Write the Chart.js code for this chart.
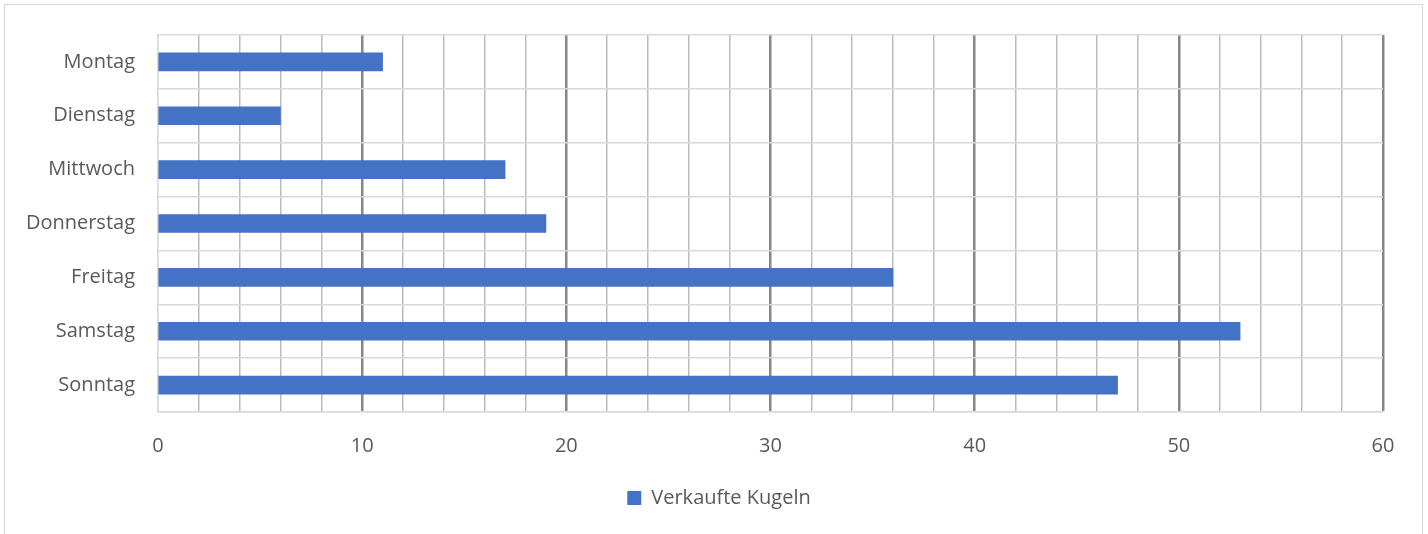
<!DOCTYPE html>
<html>
<head>
<meta charset="utf-8">
<script src="https://cdn.jsdelivr.net/npm/chart.js@4/dist/chart.umd.min.js"></script>
<style>
  html, body { margin: 0; padding: 0; background: #fff; overflow: hidden; }
  #wrap { position: relative; width: 1428px; height: 534px; }
  #frame { position: absolute; left: 4px; top: 4px; width: 1419px; height: 540px; border: 1px solid #d9d9d9; box-sizing: border-box; pointer-events: none; }
  canvas { position: absolute; left: 0; top: 0; }
</style>
</head>
<body>
<div id="wrap">
  <canvas id="chart" width="1428" height="534"></canvas>
  <div id="frame"></div>
</div>
<script>
const days = ['Montag', 'Dienstag', 'Mittwoch', 'Donnerstag', 'Freitag', 'Samstag', 'Sonntag'];
const sold = [11, 6, 17, 19, 36, 53, 47];
const seriesName = 'Verkaufte Kugeln';
const xMin = 0;
const xMax = 60;

const textColor = '#595959';
const font = { family: '"Open Sans", sans-serif', size: 20 };

const ctx = document.getElementById('chart').getContext('2d');
const chart = new Chart(ctx, {
  type: 'bar',
  data: {
    labels: days,
    datasets: [
      {
        label: seriesName,
        data: sold,
        backgroundColor: '#4472C4',
        borderWidth: 0,
        barThickness: 18
      }
    ]
  },
  options: {
    indexAxis: 'y',
    responsive: false,
    animation: false,
    layout: { padding: { top: 34, right: 0, bottom: 16, left: 10 } },
    plugins: {
      legend: {
        position: 'bottom',
        labels: {
          color: textColor,
          font: font,
          boxWidth: 14,
          boxHeight: 14,
          padding: 10
        }
      },
      tooltip: { enabled: false }
    },
    scales: {
      x: {
        min: xMin,
        max: xMax,
        afterFit: (scale) => { scale.height = 66; },
        border: { display: true, color: '#d9d9d9', width: 1.5 },
        grid: {
          drawTicks: false,
          color: (c) => {
            const v = c.tick.value;
            if (v === 0) return '#d9d9d9';
            return v % 10 === 0 ? '#868686' : '#bcbcbc';
          },
          lineWidth: (c) => {
            const v = c.tick.value;
            if (v === 0) return 1.5;
            return v % 10 === 0 ? 2.5 : 1.5;
          }
        },
        ticks: {
          stepSize: 2,
          autoSkip: false,
          maxRotation: 0,
          padding: 22,
          color: textColor,
          font: font,
          callback: (v) => (v % 10 === 0 ? v : '')
        }
      },
      y: {
        afterFit: (scale) => { scale.width = 148; },
        border: { display: true, color: '#d9d9d9', width: 1.5 },
        grid: { offset: true, drawTicks: false, color: '#d9d9d9', lineWidth: 1.5 },
        ticks: { padding: 23, color: textColor, font: font }
      },
      // empty strip on the right so the plot ends where the reference does
      yRight: {
        type: 'category',
        position: 'right',
        afterFit: (scale) => { scale.width = 45; },
        border: { display: false },
        grid: { display: false },
        ticks: { display: false }
      }
    }
  }
});
</script>
</body>
</html>
